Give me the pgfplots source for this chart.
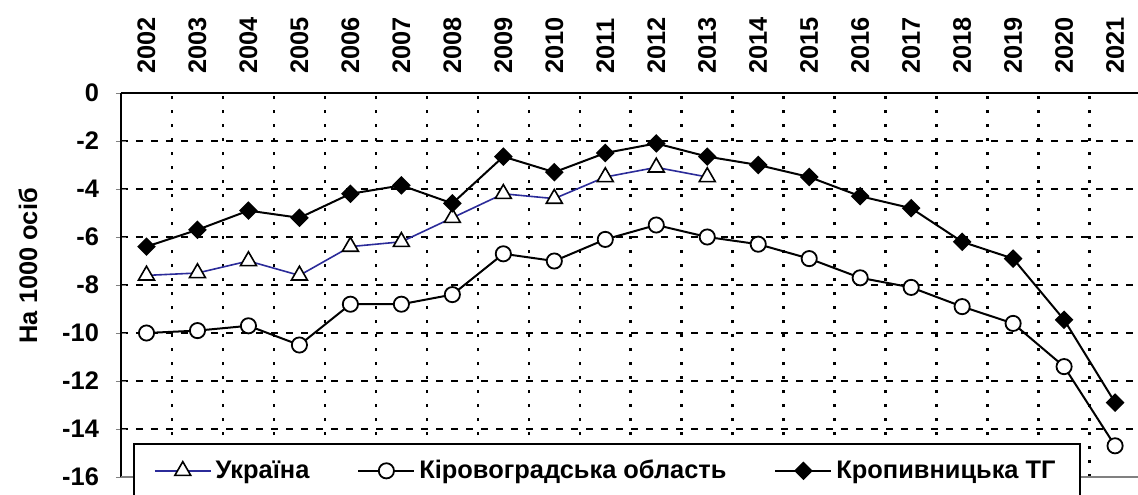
\documentclass[border=0pt]{standalone}
\usepackage{fontspec}
\setmainfont{Liberation Sans}
\usepackage{pgfplots}
\pgfplotsset{compat=1.18}
\definecolor{ukr}{HTML}{2B2B99}
\newcommand{\lblfont}{\bfseries\fontsize{12.7}{14}\selectfont}

\begin{document}
\begin{tikzpicture}
\begin{axis}[
  scale only axis, width=508.5pt, height=192pt,
  xmin=-0.5, xmax=19.45, ymin=-16, ymax=0,
  axis x line*=top, axis y line*=left,
  axis line style={line width=1.3pt},
  xtick={0,...,19},
  xticklabels={2002,2003,2004,2005,2006,2007,2008,2009,2010,2011,2012,2013,2014,2015,2016,2017,2018,2019,2020,2021},
  minor xtick={0.5,1.5,...,18.5},
  major x tick style=transparent,
  minor tick length=0pt,
  ytick={-16,-14,...,0},
  ytick align=center, major tick length=5pt,
  ymajorgrids, xminorgrids,
  major grid style={black, line width=1.2pt, dash pattern=on 3.5pt off 4pt},
  minor grid style={black, line width=1.3pt, dash pattern=on 1.4pt off 5.6pt},
  tick label style={font=\lblfont},
  /pgf/number format/assume math mode=true,
  xticklabel style={rotate=90, anchor=west, xshift=6pt},
  yticklabel style={xshift=-5pt},
  ylabel={На 1000 осіб},
  ylabel style={font=\lblfont, at={(axis description cs:-0.0915,0.55)}, anchor=center},
  legend columns=3,
  legend image code/.code={\draw[mark repeat=2,mark phase=2] plot coordinates {(0pt,0pt) (14pt,0pt) (28pt,0pt)};},
  legend style={at={(axis description cs:0.0118,0.0885)}, anchor=north west,
    draw=black, line width=1pt, fill=white, font=\lblfont,
    inner xsep=10pt, inner ysep=6pt, cells={anchor=west},
    /tikz/every even column/.append style={column sep=22pt}},
]
\draw[gray, line width=0.8pt] (axis cs:-0.5,-16) -- (axis cs:19.45,-16);

\addplot[ukr, line width=0.8pt, mark=triangle*, mark size=4.6pt,
  mark options={fill=white, draw=black, line width=0.8pt, solid}] coordinates {
(0,-7.6) (1,-7.5) (2,-7.0) (3,-7.6) (4,-6.4) (5,-6.2) (6,-5.2) (7,-4.2) (8,-4.4) (9,-3.5) (10,-3.1) (11,-3.5)
};
\addlegendentry{Україна}

\addplot[black, line width=1pt, mark=*, mark size=3.8pt,
  mark options={fill=white, draw=black, line width=0.9pt, solid}] coordinates {
(0,-10.0) (1,-9.9) (2,-9.7) (3,-10.5) (4,-8.8) (5,-8.8) (6,-8.4) (7,-6.7) (8,-7.0) (9,-6.1)
(10,-5.5) (11,-6.0) (12,-6.3) (13,-6.9) (14,-7.7) (15,-8.1) (16,-8.9) (17,-9.6) (18,-11.4) (19,-14.7)
};
\addlegendentry{Кіровоградська область}

\addplot[black, line width=1pt, mark=square*, mark size=2.8pt,
  mark options={fill=black, draw=black, rotate=45, solid}] coordinates {
(0,-6.4) (1,-5.7) (2,-4.9) (3,-5.2) (4,-4.2) (5,-3.85) (6,-4.6) (7,-2.65) (8,-3.3) (9,-2.5)
(10,-2.1) (11,-2.65) (12,-3.0) (13,-3.5) (14,-4.3) (15,-4.8) (16,-6.2) (17,-6.9) (18,-9.45) (19,-12.9)
};
\addlegendentry{Кропивницька ТГ}
\end{axis}
\pgfresetboundingbox
\path (-60.5pt,-8.5pt) rectangle (508.5pt,238.5pt);
\end{tikzpicture}
\end{document}
